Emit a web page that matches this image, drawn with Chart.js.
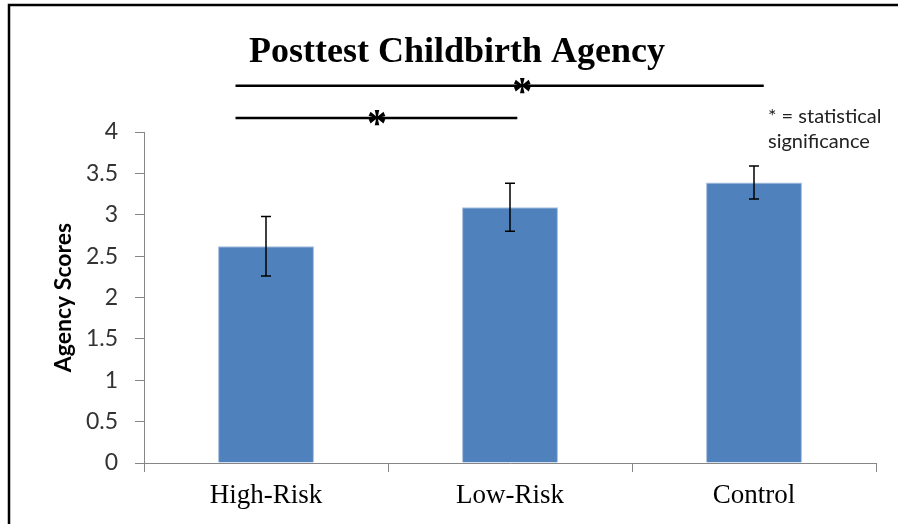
<!DOCTYPE html>
<html>
<head>
<meta charset="utf-8">
<script src="https://cdn.jsdelivr.net/npm/chart.js@4.4.1/dist/chart.umd.min.js"></script>
<style>
  html, body { margin: 0; padding: 0; background: #fff; }
  #wrap { width: 898px; height: 524px; }
</style>
</head>
<body>
<div id="wrap"><canvas id="chart" width="898" height="524"></canvas></div>
<script>
/* ================= DATA ================= */
const groups = ["High-Risk", "Low-Risk", "Control"];
const means = [2.62, 3.09, 3.39];
const errors = [0.36, 0.29, 0.20];
const yTicks = [0, 0.5, 1, 1.5, 2, 2.5, 3, 3.5, 4];

// significance brackets (category units / score units)
const sigFrom = [-0.125, -0.125];
const sigTo = [2.04, 1.03];
const sigLevel = [4.56, 4.17];
const sigStar = [1.05, 0.455];

const titleText = "Posttest Childbirth Agency";
const noteLines = ["* = statistical", "significance"];

/* ================= DRAW HELPERS ================= */
const extras = {
  id: "extras",
  beforeDraw(chart){
    const c = chart.ctx;
    c.save();
    c.fillStyle = "#fff";
    c.fillRect(0, 0, chart.width, chart.height);
    c.restore();
  },
  afterDatasetsDraw(chart){
    const c = chart.ctx;
    const x = chart.scales.x, y = chart.scales.y;
    c.save();
    c.strokeStyle = "#000";
    c.lineWidth = 1.5;
    means.forEach((m, i) => {
      const px = x.getPixelForValue(i);
      const top = y.getPixelForValue(m + errors[i]);
      const bot = y.getPixelForValue(m - errors[i]);
      c.beginPath();
      c.moveTo(px, top); c.lineTo(px, bot);
      c.moveTo(px - 5, top); c.lineTo(px + 5, top);
      c.moveTo(px - 5, bot); c.lineTo(px + 5, bot);
      c.stroke();
    });
    c.restore();
  },
  afterDraw(chart){
    const c = chart.ctx;
    const x = chart.scales.x, y = chart.scales.y;
    c.save();

    // frame
    c.strokeStyle = "#000";
    c.lineWidth = 2.5;
    c.beginPath();
    c.moveTo(9, chart.height); c.lineTo(9, 5); c.lineTo(chart.width, 5);
    c.stroke();

    // title
    c.fillStyle = "#000";
    c.font = "bold 36px 'Liberation Serif'";
    c.textAlign = "center";
    c.textBaseline = "alphabetic";
    c.fillText(titleText, 457, 62);

    // significance lines
    c.lineWidth = 2.5;
    sigLevel.forEach((lv, i) => {
      const py = y.getPixelForValue(lv);
      c.beginPath();
      c.moveTo(x.getPixelForValue(sigFrom[i]), py);
      c.lineTo(x.getPixelForValue(sigTo[i]), py);
      c.stroke();
      c.font = "bold 40px 'Liberation Serif'";
      c.textBaseline = "middle";
      c.fillText("*", x.getPixelForValue(sigStar[i]), py + 8);
    });

    // note
    c.font = "20px Lato";
    c.textAlign = "left";
    c.textBaseline = "alphabetic";
    c.fillStyle = "#222";
    c.fillText(noteLines[0], 768, 123);
    c.fillText(noteLines[1], 768, 148);
    c.restore();
  }
};

/* ================= CHART ================= */
const chart = new Chart(document.getElementById("chart"), {
  type: "bar",
  data: {
    labels: groups,
    datasets: [{
      data: means,
      backgroundColor: "#4F81BD",
      borderColor: "#a7bfde",
      borderWidth: 1,
      categoryPercentage: 1,
      barPercentage: 0.393
    }]
  },
  options: {
    responsive: false,
    animation: false,
    layout: { padding: { left: 0, top: 132, right: 22, bottom: 0 } },
    plugins: { legend: { display: false }, tooltip: { enabled: false } },
    scales: {
      x: {
        afterFit: s => { s.height = 61; },
        grid: { drawOnChartArea: false, drawTicks: true, tickLength: 9, color: "#868686", offset: true },
        border: { color: "#868686", width: 1 },
        ticks: { color: "#000", padding: 8, font: { family: "'Liberation Serif'", size: 27 } }
      },
      y: {
        min: 0,
        max: 4,
        afterFit: s => { s.width = 144; },
        afterBuildTicks: s => { s.ticks = yTicks.map(v => ({ value: v })); },
        grid: { drawOnChartArea: false, drawTicks: true, tickLength: 9, color: "#868686" },
        border: { color: "#868686", width: 1 },
        ticks: {
          color: "#333",
          padding: 17,
          font: { family: "Lato", size: 23 },
          callback: v => String(v)
        },
        title: {
          display: true,
          text: "Agency Scores",
          color: "#000",
          padding: { top: 50, bottom: 0 },
          font: { family: "Lato", size: 23, weight: "bold" }
        }
      }
    }
  },
  plugins: [extras]
});
</script>
</body>
</html>
